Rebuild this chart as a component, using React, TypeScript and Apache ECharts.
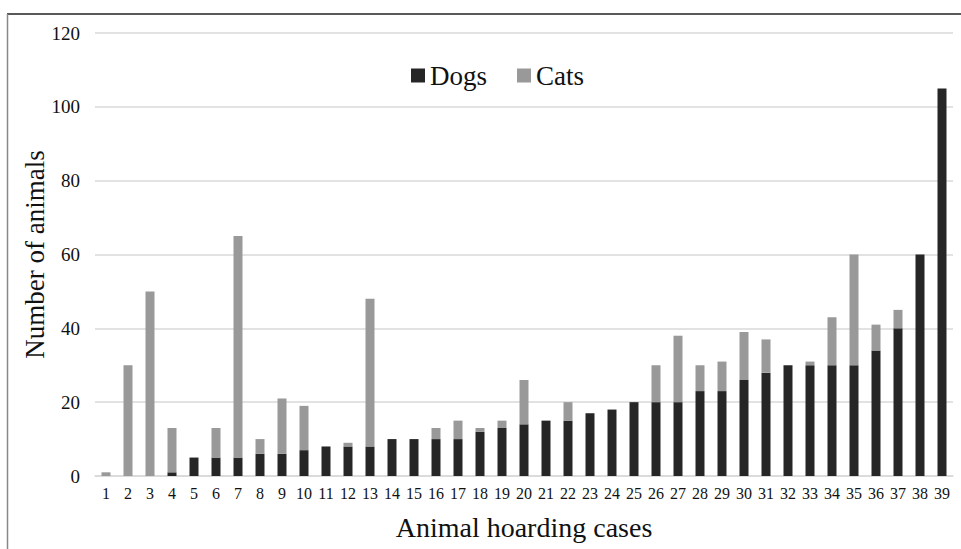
import React, { useEffect, useRef } from "react";
import * as echarts from "echarts";

const categories = [
  "1","2","3","4","5","6","7","8","9","10","11","12","13","14","15","16","17","18","19","20",
  "21","22","23","24","25","26","27","28","29","30","31","32","33","34","35","36","37","38","39",
];
const dogs = [0,0,0,1,5,5,5,6,6,7,8,8,8,10,10,10,10,12,13,14,15,15,17,18,20,20,20,23,23,26,28,30,30,30,30,34,40,60,105];
const cats = [1,30,50,12,0,8,60,4,15,12,0,1,40,0,0,3,5,1,2,12,0,5,0,0,0,10,18,7,8,13,9,0,1,13,30,7,5,0,0];
const yTicks = { min: 0, max: 120, interval: 20 };

const FONT = "'Liberation Serif', 'Times New Roman', serif";

export default function App() {
  const ref = useRef<HTMLDivElement>(null);
  useEffect(() => {
    if (!ref.current) return;
    const chart = echarts.init(ref.current, null, { renderer: "svg" });
    chart.setOption({
      animation: false,
      backgroundColor: "#ffffff",
      textStyle: { fontFamily: FONT },
      grid: { left: 95, right: 8, top: 33, bottom: 73, containLabel: false },
      legend: {
        data: ["Dogs", "Cats"],
        left: 406,
        top: 57,
        icon: "rect",
        itemWidth: 14,
        itemHeight: 14,
        itemGap: 30,
        textStyle: { fontFamily: FONT, fontSize: 27, color: "#111" },
      },
      xAxis: {
        type: "category",
        data: categories,
        name: "Animal hoarding cases",
        nameLocation: "middle",
        nameGap: 37,
        nameTextStyle: { fontFamily: FONT, fontSize: 28, color: "#111" },
        axisTick: { show: false },
        axisLine: { lineStyle: { color: "#d9d9d9", width: 1.5 } },
        axisLabel: { fontFamily: FONT, fontSize: 16, color: "#111", margin: 9, interval: 0 },
      },
      yAxis: {
        type: "value",
        min: yTicks.min,
        max: yTicks.max,
        interval: yTicks.interval,
        name: "Number of animals",
        nameLocation: "middle",
        nameGap: 47,
        nameMoveOverlap: false,
        nameTextStyle: { fontFamily: FONT, fontSize: 27, color: "#111" },
        axisLine: { show: false },
        axisTick: { show: false },
        axisLabel: { fontFamily: FONT, fontSize: 19, color: "#111", margin: 15 },
        splitLine: { lineStyle: { color: "#d9d9d9", width: 1.5 } },
      },
      series: [
        {
          name: "Dogs",
          type: "bar",
          stack: "total",
          data: dogs,
          barWidth: 9,
          itemStyle: { color: "#262626" },
        },
        {
          name: "Cats",
          type: "bar",
          stack: "total",
          data: cats,
          barWidth: 9,
          itemStyle: { color: "#999999" },
        },
      ],
      graphic: [
        {
          type: "line",
          shape: { x1: 7, y1: 14, x2: 961, y2: 14 },
          style: { stroke: "#222", lineWidth: 1.5 },
        },
        {
          type: "line",
          shape: { x1: 7.5, y1: 14, x2: 7.5, y2: 549 },
          style: { stroke: "#888", lineWidth: 1.5 },
        },
      ],
    });
    return () => chart.dispose();
  }, []);
  return <div ref={ref} style={{ width: 961, height: 549, position: "absolute", left: 0, top: 0 }} />;
}
